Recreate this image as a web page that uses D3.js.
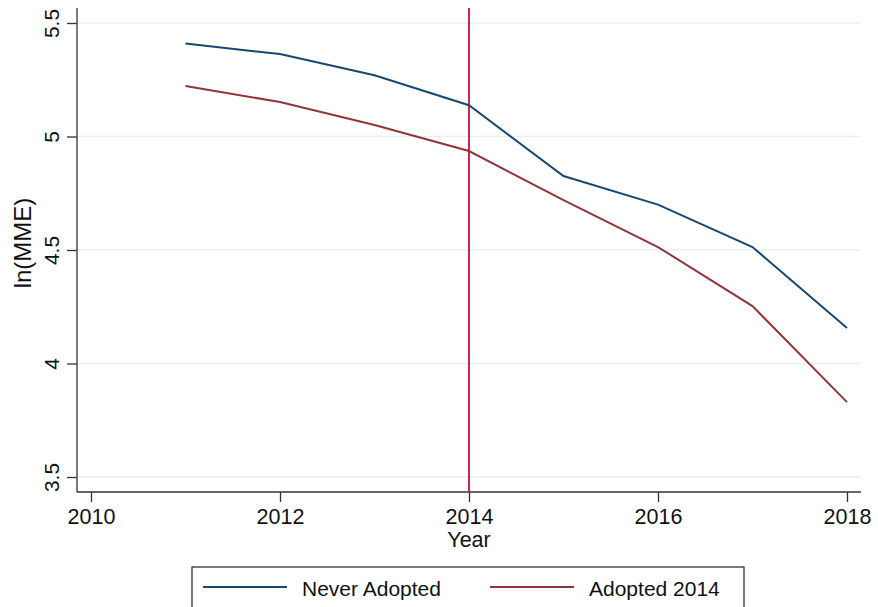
<!DOCTYPE html>
<html>
<head>
<meta charset="utf-8">
<script src="https://cdn.jsdelivr.net/npm/d3@7"></script>
<style>
  body { margin: 0; background: #fff; }
  text { font-family: "Liberation Sans", Arial, sans-serif; fill: #111; }
</style>
</head>
<body>
<div id="chart"></div>
<script>
// values
const years = [2011, 2012, 2013, 2014, 2015, 2016, 2017, 2018];
const neverAdopted = [5.41, 5.363, 5.27, 5.138, 4.826, 4.70, 4.513, 4.156];
const adopted2014 = [5.222, 5.152, 5.051, 4.936, 4.72, 4.513, 4.253, 3.83];
const xTicks = [2010, 2012, 2014, 2016, 2018];
const yTicks = [3.5, 4, 4.5, 5, 5.5];
const eventYear = 2014;

const W = 878, H = 607;
const svg = d3.select("#chart").append("svg").attr("width", W).attr("height", H);

const x = d3.scaleLinear().domain([2010, 2018]).range([91, 847]);
const y = d3.scaleLinear().domain([3.5, 5.5]).range([477, 23]);
const axisX = 77, axisY = 492, plotTop = 8, plotRight = 861;

// grid
svg.append("g").selectAll("line").data(yTicks).join("line")
  .attr("x1", axisX + 1).attr("x2", plotRight)
  .attr("y1", d => y(d)).attr("y2", d => y(d))
  .attr("stroke", "#e8eff3").attr("stroke-width", 1.5);

// axes
let ax = svg.append("g").attr("transform", `translate(0,${axisY})`)
  .call(d3.axisBottom(x).tickValues(xTicks).tickFormat(d3.format("d")).tickSize(10).tickPadding(7));
ax.select(".domain").attr("d", `M${axisX},0H${plotRight}`).attr("stroke", "#333").attr("stroke-width", 1.3);
ax.selectAll(".tick line").attr("stroke", "#333").attr("stroke-width", 1.3);
ax.selectAll(".tick text").style("font-size", "21.5px").attr("font-family", null);

let ay = svg.append("g").attr("transform", `translate(${axisX},0)`)
  .call(d3.axisLeft(y).tickValues(yTicks).tickFormat(d => d).tickSize(10).tickPadding(6));
ay.select(".domain").attr("d", `M0,${plotTop}V${axisY}`).attr("stroke", "#333").attr("stroke-width", 1.3);
ay.selectAll(".tick line").attr("stroke", "#333").attr("stroke-width", 1.3);
ay.selectAll(".tick text").style("font-size", "21px").attr("font-family", null)
  .attr("text-anchor", "middle").attr("x", -25).attr("dy", 0)
  .attr("transform", "rotate(-90,-25,0)")
  .attr("y", 7);

// axis titles
svg.append("text").attr("x", x(2014)).attr("y", 547).attr("text-anchor", "middle")
  .style("font-size", "21.5px").text("Year");
svg.append("text").attr("transform", `translate(31,${(plotTop + axisY) / 2 - 7}) rotate(-90)`)
  .attr("text-anchor", "middle").style("font-size", "24px").text("ln(MME)");

// event line
svg.append("line").attr("x1", x(eventYear)).attr("x2", x(eventYear))
  .attr("y1", plotTop).attr("y2", axisY)
  .attr("stroke", "#d2234e").attr("stroke-width", 2);

// series
const line = d3.line().x(d => x(d[0])).y(d => y(d[1]));
const series = [
  { name: "Never Adopted", vals: neverAdopted, color: "#1a476f" },
  { name: "Adopted 2014", vals: adopted2014, color: "#90353b" }
];
series.forEach(s => {
  svg.append("path").datum(years.map((yr, i) => [yr, s.vals[i]]))
    .attr("fill", "none").attr("stroke", s.color).attr("stroke-width", 2)
    .attr("d", line);
});

// legend
svg.append("rect").attr("x", 192).attr("y", 567).attr("width", 552).attr("height", 50)
  .attr("fill", "#fff").attr("stroke", "#333").attr("stroke-width", 1.3);
const lx = [203, 490];
series.forEach((s, i) => {
  svg.append("line").attr("x1", lx[i]).attr("x2", lx[i] + 84).attr("y1", 587).attr("y2", 587)
    .attr("stroke", s.color).attr("stroke-width", 2);
  svg.append("text").attr("x", lx[i] + 99).attr("y", 596).style("font-size", "21px").text(s.name);
});
</script>
</body>
</html>
